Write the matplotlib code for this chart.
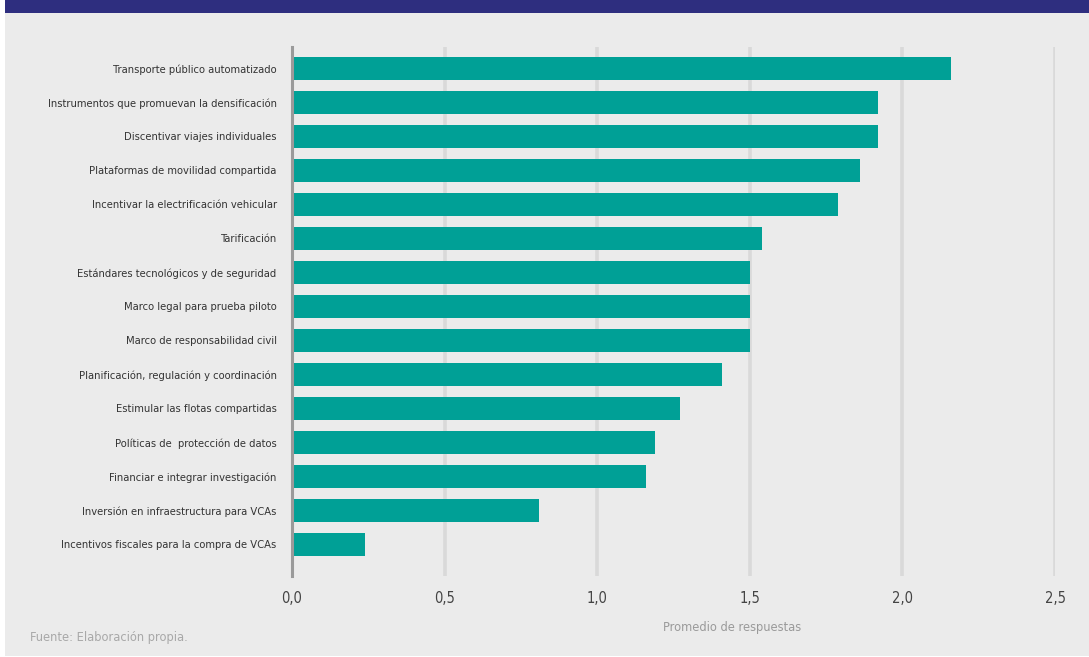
import matplotlib
matplotlib.use("Agg")
import matplotlib.pyplot as plt
from matplotlib.patches import Rectangle
from matplotlib.ticker import FixedLocator, FuncFormatter

categories = [
    "Transporte público automatizado",
    "Instrumentos que promuevan la densificación",
    "Discentivar viajes individuales",
    "Plataformas de movilidad compartida",
    "Incentivar la electrificación vehicular",
    "Tarificación",
    "Estándares tecnológicos y de seguridad",
    "Marco legal para prueba piloto",
    "Marco de responsabilidad civil",
    "Planificación, regulación y coordinación",
    "Estimular las flotas compartidas",
    "Políticas de  protección de datos",
    "Financiar e integrar investigación",
    "Inversión en infraestructura para VCAs",
    "Incentivos fiscales para la compra de VCAs",
]
values = [2.16, 1.92, 1.92, 1.86, 1.79, 1.54, 1.50, 1.50, 1.50,
          1.41, 1.27, 1.19, 1.16, 0.81, 0.24]
xticks = [0.0, 0.5, 1.0, 1.5, 2.0, 2.5]
xlabel = "Promedio de respuestas"
source = "Fuente: Elaboración propia."

# narrow face for all text
plt.rcParams["font.family"] = ["DejaVu Sans"]
plt.rcParams["font.stretch"] = "condensed"

W, H = 1089, 657
fig = plt.figure(figsize=(W / 100, H / 100), dpi=100, facecolor="white")

# panel background and header band
fig.patches.append(Rectangle((5 / W, 1 / H), (W - 5) / W, (H - 13) / H,
                             transform=fig.transFigure, facecolor="#ebebeb",
                             edgecolor="none", zorder=-10))
fig.patches.append(Rectangle((5 / W, (H - 12.5) / H), (W - 5) / W, 12.5 / H,
                             transform=fig.transFigure, facecolor="#2e2e7f",
                             edgecolor="none", zorder=-10))

left, right = 292 / W, 1055 / W
top, bottom = 46.7, 576
ax = fig.add_axes([left, 1 - bottom / H, right - left, (bottom - top) / H])
ax.set_facecolor("none")

ypos = list(range(len(categories)))
ax.barh(ypos, values, height=0.68, color="#00a096", zorder=3)

ax.set_xlim(0, 2.5)
ax.set_ylim(14.93, -0.64)

ax.xaxis.set_major_locator(FixedLocator(xticks))
ax.xaxis.set_major_formatter(FuncFormatter(lambda v, p: f"{v:.1f}".replace(".", ",")))
ax.grid(axis="x", color="#d9d9d9", linewidth=2.6, zorder=1)
ax.set_axisbelow(True)

ax.set_yticks(ypos)
ax.set_yticklabels(categories)

for s in ["top", "right", "bottom"]:
    ax.spines[s].set_visible(False)
ax.spines["left"].set_color("#9a9a9a")
ax.spines["left"].set_linewidth(2.2)
ax.spines["left"].set_zorder(4)

ax.tick_params(axis="y", length=0, pad=11, labelsize=8.0, labelcolor="#333333")
ax.tick_params(axis="x", length=0, pad=11, labelsize=10.5, labelcolor="#444444")

fig.text(732 / W, 1 - 628 / H, xlabel, ha="center", va="center",
         fontsize=9.2, color="#9a9a9a")
fig.text(30 / W, 1 - 637 / H, source, ha="left", va="center",
         fontsize=9.2, color="#a8a8a8")

fig.savefig("out.png", dpi=100, facecolor="white")
